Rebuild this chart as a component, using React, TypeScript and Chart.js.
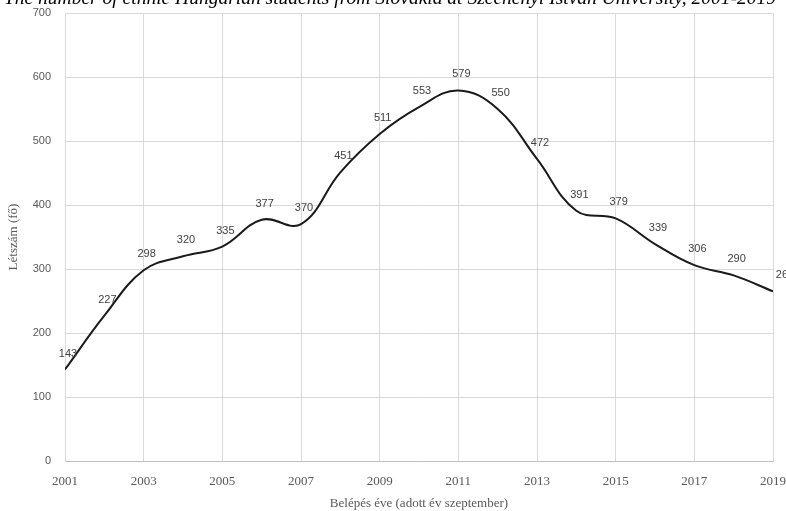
import React, { useEffect, useRef } from "react";
import { Chart, registerables } from "chart.js";

Chart.register(...registerables);

const years = [2001, 2002, 2003, 2004, 2005, 2006, 2007, 2008, 2009, 2010, 2011, 2012, 2013, 2014, 2015, 2016, 2017, 2018, 2019];
const students = [143, 227, 298, 320, 335, 377, 370, 451, 511, 553, 579, 550, 472, 391, 379, 339, 306, 290, 265];
const chartTitle = "The number of ethnic Hungarian students from Slovakia at Széchenyi István University, 2001-2019";
const xTitle = "Belépés éve (adott év szeptember)";
const yTitle = "Létszám (fő)";

const labelPlugin = {
  id: "pointLabels",
  afterDatasetsDraw(chart: any) {
    const ctx = chart.ctx;
    const meta = chart.getDatasetMeta(0);
    ctx.save();
    ctx.font = "11px 'Liberation Sans', sans-serif";
    ctx.fillStyle = "#404040";
    ctx.textAlign = "center";
    ctx.textBaseline = "middle";
    meta.data.forEach((pt: any, i: number) => {
      const dx = i === meta.data.length - 1 ? 12 : 3;
      ctx.fillText(String(students[i]), pt.x + dx, pt.y - 16);
    });
    ctx.restore();
  },
};

const titlePlugin = {
  id: "cutTitle",
  afterDraw(chart: any) {
    const ctx = chart.ctx;
    ctx.save();
    ctx.font = "italic 19.5px 'Liberation Serif', serif";
    ctx.fillStyle = "#000000";
    ctx.textAlign = "center";
    ctx.textBaseline = "alphabetic";
    ctx.fillText(chartTitle, 390, 4);
    ctx.restore();
  },
};

export default function App() {
  const ref = useRef<HTMLCanvasElement>(null);
  useEffect(() => {
    if (!ref.current) return;
    const chart = new Chart(ref.current, {
      type: "line",
      data: {
        datasets: [
          {
            data: years.map((y, i) => ({ x: y, y: students[i] })),
            borderColor: "#1a1a1a",
            borderWidth: 2,
            pointRadius: 0,
            tension: 0.4,
            fill: false,
          },
        ],
      },
      options: {
        animation: false,
        responsive: false,
        layout: { padding: { top: 13, right: 13, left: 0, bottom: 0 } },
        plugins: { legend: { display: false }, tooltip: { enabled: false } },
        scales: {
          x: {
            type: "linear",
            min: 2001,
            max: 2019,
            ticks: {
              stepSize: 2,
              callback: (v: any) => String(v),
              font: { family: "'Liberation Serif', serif", size: 13 },
              color: "#595959",
              padding: 13,
              maxRotation: 0,
            },
            grid: { color: "#d9d9d9", drawTicks: false },
            border: { color: "#bfbfbf" },
            title: {
              display: true,
              text: xTitle,
              font: { family: "'Liberation Serif', serif", size: 13 },
              color: "#595959",
              padding: { top: 4, bottom: 0 },
            },
            afterFit: (s: any) => {
              s.height = 50;
              s.paddingLeft = 0;
              s.paddingRight = 0;
            },
          },
          y: {
            min: 0,
            max: 700,
            ticks: {
              stepSize: 100,
              font: { family: "'Liberation Sans', sans-serif", size: 11 },
              color: "#595959",
              padding: 14,
            },
            grid: { color: "#d9d9d9", drawTicks: false },
            border: { color: "#d9d9d9" },
            title: {
              display: true,
              text: yTitle,
              font: { family: "'Liberation Serif', serif", size: 13 },
              color: "#595959",
              padding: { top: 6, bottom: 0 },
            },
            afterFit: (s: any) => {
              s.width = 65;
              s.paddingTop = 0;
              s.paddingBottom = 0;
            },
          },
        },
      },
      plugins: [labelPlugin, titlePlugin],
    });
    return () => chart.destroy();
  }, []);
  return (
    <div style={{ position: "fixed", left: 0, top: 0, width: 786, height: 511, background: "#fff" }}>
      <canvas ref={ref} width={786} height={511} style={{ display: "block" }} />
    </div>
  );
}
